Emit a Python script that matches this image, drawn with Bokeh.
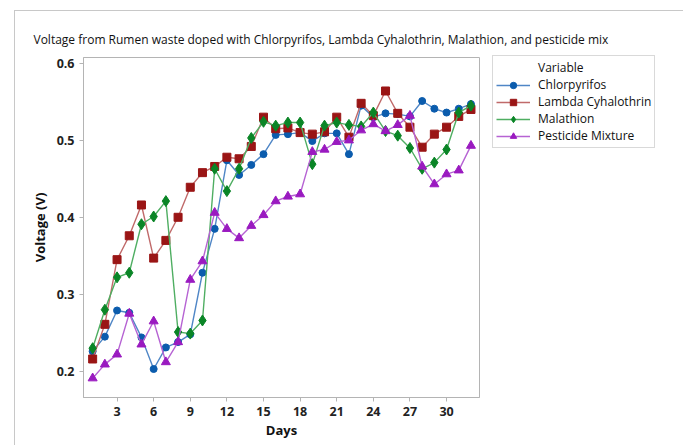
from bokeh.plotting import figure
from bokeh.models import Legend, LegendItem, FixedTicker, Range1d, Title, CustomJSTickFormatter
from bokeh.embed import file_html
from bokeh.resources import INLINE

days = list(range(1, 33))
chlorpyrifos = [0.226, 0.245, 0.279, 0.276, 0.244, 0.203, 0.231, 0.238, 0.248, 0.328, 0.385, 0.474,
                0.455, 0.468, 0.482, 0.507, 0.508, 0.510, 0.499, 0.509, 0.509, 0.482, 0.545, 0.530,
                0.535, 0.534, 0.531, 0.551, 0.541, 0.536, 0.541, 0.547]
lambda_cyhalothrin = [0.216, 0.261, 0.345, 0.376, 0.416, 0.347, 0.370, 0.400, 0.439, 0.458, 0.466, 0.478,
                      0.476, 0.492, 0.530, 0.515, 0.516, 0.510, 0.508, 0.511, 0.530, 0.504, 0.548, 0.532,
                      0.564, 0.535, 0.517, 0.491, 0.508, 0.517, 0.531, 0.540]
malathion = [0.230, 0.280, 0.322, 0.328, 0.391, 0.401, 0.421, 0.251, 0.249, 0.266, 0.463, 0.434,
             0.463, 0.503, 0.524, 0.519, 0.523, 0.523, 0.469, 0.519, 0.523, 0.520, 0.518, 0.536,
             0.512, 0.506, 0.490, 0.463, 0.471, 0.488, 0.536, 0.545]
pesticide_mixture = [0.191, 0.209, 0.222, 0.275, 0.235, 0.265, 0.212, 0.238, 0.319, 0.343, 0.406, 0.385,
                     0.373, 0.389, 0.403, 0.421, 0.427, 0.430, 0.485, 0.488, 0.498, 0.500, 0.513, 0.521,
                     0.512, 0.520, 0.532, 0.466, 0.443, 0.456, 0.461, 0.493]
x_ticks = [3, 6, 9, 12, 15, 18, 21, 24, 27, 30]
y_ticks = [0.2, 0.3, 0.4, 0.5, 0.6]

FONT = "Open Sans"

p = figure(frame_width=396, frame_height=340, output_backend="svg", toolbar_location=None,
           x_range=Range1d(0.25, 32.7), y_range=Range1d(0.166, 0.6075),
           min_border_left=68, min_border_top=46, min_border_right=205, min_border_bottom=49)
p.margin = (10, 0, 0, 14)
p.styles = {"border": "1px solid #c8c8c8"}
p.background_fill_color = "white"
p.border_fill_color = "white"
p.outline_line_color = "#b4b4b4"
p.grid.visible = False

p.title = Title(text="Voltage from Rumen waste doped with Chlorpyrifos, Lambda Cyhalothrin, Malathion, and pesticide mix",
                text_font=FONT, text_font_size="12px", text_font_style="normal", text_color="#111111",
                align="left", offset=-50, standoff=19)

for ax in (p.xaxis[0], p.yaxis[0]):
    ax.axis_line_color = "#b4b4b4"
    ax.major_tick_line_color = "#b4b4b4"
    ax.major_tick_in = 0
    ax.major_tick_out = 4
    ax.minor_tick_line_color = None
    ax.major_label_text_font = FONT
    ax.major_label_text_font_size = "12.5px"
    ax.major_label_text_font_style = "bold"
    ax.major_label_text_color = "#222222"
    ax.axis_label_text_font = FONT
    ax.axis_label_text_font_size = "13px"
    ax.axis_label_text_font_style = "bold"
    ax.axis_label_text_color = "#111111"

p.xaxis.ticker = FixedTicker(ticks=x_ticks)
p.yaxis.ticker = FixedTicker(ticks=y_ticks)
p.yaxis.formatter = CustomJSTickFormatter(code="return tick.toFixed(1);")
p.xaxis.axis_label = "Days"
p.yaxis.axis_label = "Voltage (V)"
p.xaxis.axis_label_standoff = 2
p.yaxis.axis_label_standoff = 5

series = [
    ("Chlorpyrifos", chlorpyrifos, "#0B5CAD", "#4f86c6", "circle", 7),
    ("Lambda Cyhalothrin", lambda_cyhalothrin, "#9A1515", "#c06a6a", "square", 8),
    ("Malathion", malathion, "#0A8526", "#4fae62", "diamond", 11),
    ("Pesticide Mixture", pesticide_mixture, "#9A1AC0", "#b663d3", "triangle", 9),
]

# invisible renderer for the "Variable" header row of the legend
header = p.line([1, 1], [0.3, 0.3], line_alpha=0)
items = [LegendItem(label="Variable", renderers=[header])]
for name, vals, mcol, lcol, marker, size in series:
    ln = p.line(days, vals, line_color=lcol, line_width=1.4)
    sc = p.scatter(days, vals, marker=marker, size=size, fill_color=mcol, line_color=mcol)
    items.append(LegendItem(label=name, renderers=[ln, sc]))

legend = Legend(items=items, location=(13, 249), border_line_color="#b4b4b4",
                label_text_font=FONT, label_text_font_size="12px", label_text_color="#111111",
                label_text_line_height=0.9,
                glyph_width=34, glyph_height=16, label_height=12, spacing=0, padding=3,
                label_standoff=8, margin=0, background_fill_alpha=1)
p.add_layout(legend, "right")

open("out.html", "w").write(file_html(p, INLINE))
